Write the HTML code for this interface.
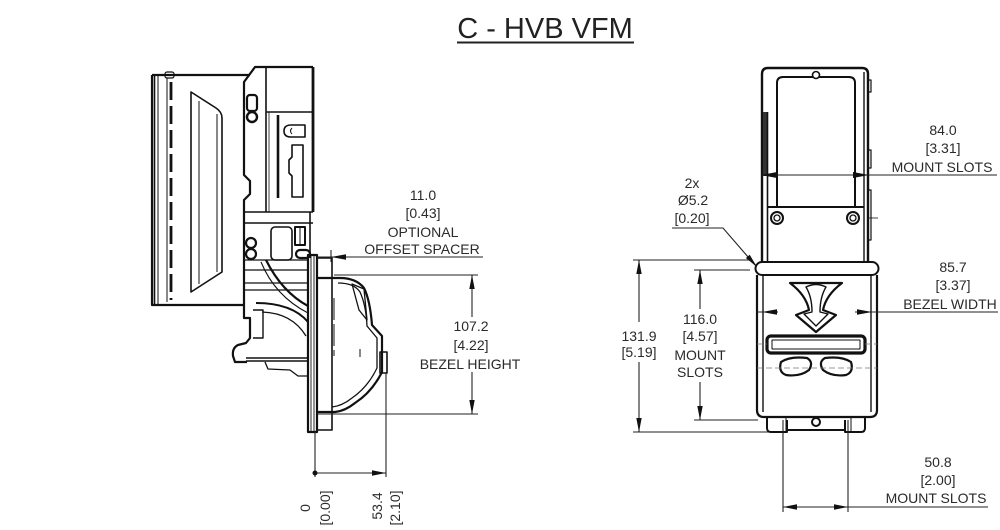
<!DOCTYPE html>
<html><head><meta charset="utf-8">
<style>
html,body{margin:0;padding:0;background:#fff;}
svg{display:block;}
text{font-family:"Liberation Sans",Arial,sans-serif;font-size:14px;fill:#2a2a2a;}
</style></head><body>
<svg width="1000" height="530" viewBox="0 0 1000 530" xmlns="http://www.w3.org/2000/svg">
<rect width="1000" height="530" fill="#fff"/>
<!-- Title -->
<text x="545" y="38" text-anchor="middle" style="font-size:29px;fill:#222">C - HVB VFM</text>
<rect x="457" y="41.5" width="177" height="2" fill="#222"/>

<!-- ================= LEFT (SIDE) VIEW ================= -->
<g fill="none" stroke="#111" stroke-linejoin="round">
  <!-- front door panel -->
  <path d="M152,75 L250,75 M152,75 L152,305 L244,305" stroke-width="2.2"/>
  <line x1="154.5" y1="75" x2="154.5" y2="305" stroke-width="1.6"/>
  <line x1="158" y1="76" x2="158" y2="304" stroke-width="1"/>
  <line x1="167" y1="78" x2="167" y2="302" stroke-width="1"/>
  <line x1="171" y1="82" x2="171" y2="300" stroke-width="2.8" stroke-dasharray="18,6"/>
  <rect x="165" y="72" width="9" height="6" rx="2" stroke-width="1.2"/>
  <path d="M191,92 L191,292 L222,272 L222,118 Q222,112 216,108 Z" stroke-width="1.6"/>
  <path d="M199,101 L199,284 M217,114 L217,272" stroke-width="1"/>

  <!-- main body upper -->
  <path d="M313,67 L255,67 L244,82 L244,175 L250,181 L250,194 L244,200 L244,258" stroke-width="2.2"/>
  <path d="M313,67 L313,212" stroke-width="2.8"/>
  <path d="M310,212 L310,258" stroke-width="1.6"/>
  <line x1="266" y1="67" x2="266" y2="212" stroke-width="1.6"/>
  <line x1="269" y1="112" x2="269" y2="212" stroke-width="0.8"/>
  <line x1="266" y1="112" x2="313" y2="112" stroke-width="1.6"/>
  <line x1="278" y1="115" x2="278" y2="198" stroke-width="2.6"/>
  <path d="M305,125 L291,125 Q284,125 284,131 Q284,137 291,137 L305,137 Z" stroke-width="1.6"/>
  <path d="M292,128 Q289,131 292,134" stroke-width="1"/>
  <path d="M292,145 L303,145 L303,197 L292,197 L292,176 L289,173 L289,160 L292,157 Z" stroke-width="1.6"/>
  <rect x="247" y="95" width="10" height="16" rx="3" stroke-width="2.2"/>
  <circle cx="252" cy="117" r="5" stroke-width="2.4"/>
  <line x1="244" y1="212" x2="313" y2="212" stroke-width="1.6"/>
  <line x1="244" y1="223" x2="313" y2="223" stroke-width="1.6"/>
  <rect x="271" y="227" width="21" height="33" rx="4" stroke-width="1.6"/>
  <rect x="295" y="227" width="10" height="18" stroke-width="2"/>
  <line x1="300" y1="228" x2="300" y2="244" stroke-width="1"/>
  <circle cx="251" cy="243" r="5" stroke-width="2.2"/>
  <circle cx="251" cy="254" r="5" stroke-width="2.2"/>
  <rect x="296" y="250" width="14" height="8" rx="4" stroke-width="2.2"/>

  <!-- lower section -->
  <path d="M244,260 L308,260 M244,270 L308,270 M244,283 L308,283 M244,290 L308,290" stroke-width="1.3"/>
  <path d="M244,258 L244,303" stroke-width="2.2"/>
  <path d="M266,260 Q282,292 308,306" stroke-width="2.2"/>
  <path d="M261,262 Q275,296 308,313" stroke-width="1.1"/>
  <path d="M244,303 L244,318 L250,318 L250,338 L246,343 L238,345 Q232,348 233,356 L235,362 L247,362" stroke-width="2.2"/>
  <path d="M253,310 L263,310 L263,338 L253,338" stroke-width="1.4"/>
  <path d="M256,303 Q292,303 308,322" stroke-width="2"/>
  <path d="M262,312 Q292,313 306,336" stroke-width="1.3"/>
  <path d="M246,358 L308,358 M246,361 L308,361" stroke-width="1.6"/>
  <path d="M265,362 L268,369 L290,370 L298,376 L308,376" stroke-width="1.3"/>

  <!-- flange plate & spacer -->
  <rect x="308" y="255" width="9" height="177" stroke-width="2.2"/>
  <path d="M311,256 L311,431 M314,256 L314,431" stroke-width="0.9"/>
  <rect x="317" y="258" width="15" height="172" stroke-width="1.6"/>

  <!-- bezel -->
  <path d="M317,278 L340,278 Q356,278 364,288 Q370,300 372,325 L382,336 L382,372 Q372,392 355,403 Q345,411 335,412 L317,412" stroke-width="2.2"/>
  <path d="M338,283 Q354,283 360,292 Q366,305 367,326 L377,338 L377,368 Q368,387 352,398 Q342,406 332,407" stroke-width="1.3"/>
  <path d="M352,284 L364,289 L367,320 L359,310 Z" stroke-width="1.3"/>
  <rect x="380" y="352" width="7" height="21" stroke-width="1.6"/>
  <line x1="334" y1="298" x2="334" y2="356" stroke-width="1" stroke-dasharray="22,4"/>
  <line x1="360" y1="349" x2="360" y2="357" stroke-width="1"/>
</g>

<!-- left dimensions -->
<g stroke="#222" stroke-width="1.1" fill="none">
  <line x1="331" y1="250" x2="331" y2="262"/>
  <line x1="317" y1="257" x2="483" y2="257"/>
  <line x1="334" y1="275" x2="478" y2="275"/>
  <line x1="318" y1="414" x2="478" y2="414"/>
  <line x1="472" y1="275" x2="472" y2="317"/>
  <line x1="472" y1="372" x2="472" y2="414"/>
  <line x1="315" y1="432" x2="315" y2="477"/>
  <line x1="386" y1="373" x2="386" y2="477"/>
  <line x1="315" y1="473" x2="386" y2="473"/>
</g>
<g fill="#111">
  <polygon points="331,257 346,254.3 346,259.7"/>
  <polygon points="472,275 469.3,289 474.7,289"/>
  <polygon points="472,414 469.3,400 474.7,400"/>
  <circle cx="315" cy="473" r="2.5"/>
  <polygon points="386,473 372,470.3 372,475.7"/>
</g>
<text x="423" y="200" text-anchor="middle">11.0</text>
<text x="423" y="218" text-anchor="middle">[0.43]</text>
<text x="423" y="237" text-anchor="middle">OPTIONAL</text>
<text x="422" y="254" text-anchor="middle">OFFSET SPACER</text>
<text x="471" y="331" text-anchor="middle">107.2</text>
<text x="471" y="350" text-anchor="middle">[4.22]</text>
<text x="470" y="369" text-anchor="middle">BEZEL HEIGHT</text>
<text transform="translate(310,508) rotate(-90)" text-anchor="middle">0</text>
<text transform="translate(330,508) rotate(-90)" text-anchor="middle">[0.00]</text>
<text transform="translate(382,506) rotate(-90)" text-anchor="middle">53.4</text>
<text transform="translate(400,508) rotate(-90)" text-anchor="middle">[2.10]</text>

<!-- ================= RIGHT (FRONT) VIEW ================= -->
<g fill="none" stroke="#111" stroke-linejoin="round">
  <!-- upper unit frame -->
  <path d="M762,262 L762,74 Q762,68 768,68 L862,68 Q868,68 868,74 L868,262" stroke-width="2.4"/>
  <rect x="763" y="112" width="4" height="64" fill="#333" stroke="none"/>
  <line x1="767.5" y1="112" x2="767.5" y2="262" stroke-width="1.6"/>
  <line x1="864" y1="72" x2="864" y2="262" stroke-width="1.4"/>
  <path d="M868,80 L871,80 L871,92 L868,92 M868,150 L871,150 L871,168 L868,168 M868,190 L871,190 L871,240 L868,240" stroke-width="1.2"/>
  <path d="M777,207 L777,83 Q777,77 783,77 L849,77 Q855,77 855,83 L855,207" stroke-width="2"/>
  <line x1="767" y1="207" x2="864" y2="207" stroke-width="2"/>
  <circle cx="816" cy="75" r="3.5" fill="#fff" stroke-width="1.6"/>
  <circle cx="777" cy="218" r="6" stroke-width="2"/>
  <circle cx="777" cy="218" r="3" stroke-width="1.3"/>
  <circle cx="853" cy="218" r="6" stroke-width="2"/>
  <circle cx="853" cy="218" r="3" stroke-width="1.3"/>
  <line x1="868" y1="218" x2="878" y2="218" stroke-width="0.8"/>

  <!-- bezel -->
  <path d="M762,262 L872,262 A6.5,6.5 0 0 1 872,275 L762,275 A6.5,6.5 0 0 1 762,262 Z" stroke-width="2"/>
  <path d="M757,275 L757,410 Q757,417 764,417 L870,417 Q877,417 877,410 L877,275" stroke-width="2.2"/>
  <path d="M763,276 L763,412 M871,276 L871,412" stroke-width="1.4"/>
  <path d="M767,417 L767,428 Q767,432 771,432 L787,432 L787,420 M787,430 L845,430 M845,420 L845,432 L861,432 Q865,432 865,428 L865,417" stroke-width="2"/>
  <line x1="786" y1="418" x2="786" y2="432" stroke-width="1"/>
  <line x1="851" y1="418" x2="851" y2="432" stroke-width="1"/>
  <circle cx="816" cy="422" r="4" stroke-width="2"/>

  <!-- funnel arrow -->
  <path d="M790,283 L842,283 Q826,295 823,310 L836,315 L816,332 L796,315 L809,310 Q806,295 790,283 Z" stroke-width="2.2"/>
  <path d="M806,287 Q816,282 826,287 Q820,297 820,312 L828,314 L816,326 L804,314 L812,312 Q812,297 806,287 Z" stroke-width="1.4"/>
  <!-- slot -->
  <rect x="767" y="336" width="98" height="17" rx="4" stroke-width="3.2"/>
  <rect x="772" y="340" width="88" height="9" stroke-width="1"/>
  <!-- kidneys -->
  <path d="M781,362 Q790,356 807,358 Q814,362 809,370 Q800,377 786,375 Q778,372 781,362 Z" stroke-width="2.2"/>
  <path d="M851,362 Q842,356 825,358 Q818,362 823,370 Q832,377 846,375 Q854,372 851,362 Z" stroke-width="2.2"/>
</g>
<g stroke="#777" stroke-width="0.8" fill="none" stroke-dasharray="6,3">
  <line x1="757" y1="368" x2="877" y2="368"/>
  <line x1="757" y1="344" x2="767" y2="344"/>
  <line x1="865" y1="344" x2="877" y2="344"/>
</g>

<!-- right dimensions -->
<g stroke="#222" stroke-width="1.1" fill="none">
  <line x1="761" y1="175" x2="997" y2="175"/>
  <line x1="757" y1="312" x2="778" y2="312"/>
  <line x1="855" y1="312" x2="998" y2="312"/>
  <path d="M672,228 L723,228 L755,265"/>
  <line x1="633" y1="260" x2="750" y2="260"/>
  <line x1="633" y1="432" x2="768" y2="432"/>
  <line x1="639" y1="260" x2="639" y2="322"/>
  <line x1="639" y1="362" x2="639" y2="432"/>
  <line x1="694" y1="270" x2="750" y2="270"/>
  <line x1="694" y1="420" x2="758" y2="420"/>
  <line x1="700" y1="270" x2="700" y2="309"/>
  <line x1="700" y1="382" x2="700" y2="420"/>
  <line x1="783" y1="420" x2="783" y2="512"/>
  <line x1="848" y1="420" x2="848" y2="512"/>
  <line x1="783" y1="507" x2="988" y2="507"/>
</g>
<g fill="#111">
  <polygon points="761,175 777,172 777,178"/>
  <polygon points="869,175 853,172 853,178"/>
  <polygon points="762,312 777,309.3 777,314.7"/>
  <polygon points="872,312 857,309.3 857,314.7"/>
  <polygon points="757,267 745.9,258 749.7,254.8"/>
  <polygon points="639,260 636.3,274 641.7,274"/>
  <polygon points="639,432 636.3,418 641.7,418"/>
  <polygon points="700,270 697.3,284 702.7,284"/>
  <polygon points="700,420 697.3,406 702.7,406"/>
  <polygon points="783,507 797,504.3 797,509.7"/>
  <polygon points="848,507 834,504.3 834,509.7"/>
</g>
<text x="692" y="188" text-anchor="middle">2x</text>
<text x="693" y="205" text-anchor="middle">Ø5.2</text>
<text x="692" y="223" text-anchor="middle">[0.20]</text>
<text x="943" y="135" text-anchor="middle">84.0</text>
<text x="943" y="153" text-anchor="middle">[3.31]</text>
<text x="942" y="172" text-anchor="middle">MOUNT SLOTS</text>
<text x="953" y="272" text-anchor="middle">85.7</text>
<text x="953" y="290" text-anchor="middle">[3.37]</text>
<text x="950" y="309" text-anchor="middle">BEZEL WIDTH</text>
<text x="639" y="341" text-anchor="middle">131.9</text>
<text x="639" y="357" text-anchor="middle">[5.19]</text>
<text x="700" y="324" text-anchor="middle">116.0</text>
<text x="700" y="341" text-anchor="middle">[4.57]</text>
<text x="700" y="360" text-anchor="middle">MOUNT</text>
<text x="700" y="377" text-anchor="middle">SLOTS</text>
<text x="938" y="467" text-anchor="middle">50.8</text>
<text x="938" y="485" text-anchor="middle">[2.00]</text>
<text x="936" y="503" text-anchor="middle">MOUNT SLOTS</text>
</svg>
</body></html>
